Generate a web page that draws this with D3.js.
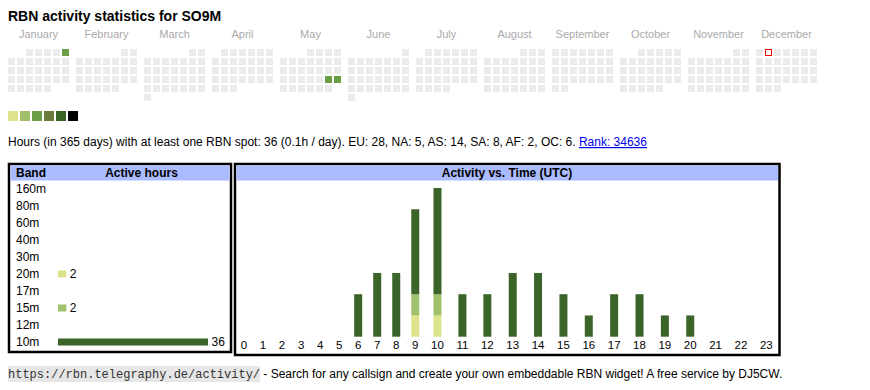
<!DOCTYPE html>
<html>
<head>
<meta charset="utf-8">
<script src="https://cdn.jsdelivr.net/npm/d3@7"></script>
<style>
body { margin: 0; background: #fff; }
text { font-family: "Liberation Sans", Arial, sans-serif; }
</style>
</head>
<body>
<svg id="chart" width="870" height="390"></svg>
<script>
/* data read from the RBN widget */
var year = 2025;
var months = ["January", "February", "March", "April", "May", "June", "July",
	"August", "September", "October", "November", "December"];
var activeDays = ["2025-01-05", "2025-05-24", "2025-05-25"];
var activeLevels = [3, 3, 3];
var today = "2025-12-02";
var levelColors = ["#dde38b", "#a0c06b", "#6a9e45", "#6a7b3a", "#3b6428", "#000000"];

var bands = ["160m", "80m", "60m", "40m", "30m", "20m", "17m", "15m", "12m", "10m"];
var bandHours = [0, 0, 0, 0, 0, 2, 0, 2, 0, 36];
var bandColors = {"20m": "#dde38b", "15m": "#a0c06b", "10m": "#3b6428"};

var hours = d3.range(24);
var hours20m = [0,0,0,0,0,0,0,0,0,1,1,0,0,0,0,0,0,0,0,0,0,0,0,0];
var hours15m = [0,0,0,0,0,0,0,0,0,1,1,0,0,0,0,0,0,0,0,0,0,0,0,0];
var hours10m = [0,0,0,0,0,0,2,3,3,4,5,2,2,3,3,2,1,2,2,1,1,0,0,0];

var summary = "Hours (in 365 days) with at least one RBN spot: 36 (0.1h / day). EU: 28, NA: 5, AS: 14, SA: 8, AF: 2, OC: 6.";
var rankText = "Rank: 34636";
var footerUrl = "https://rbn.telegraphy.de/activity/";
var footerText = "- Search for any callsign and create your own embeddable RBN widget! A free service by DJ5CW.";

var svg = d3.select("#chart");

/* title */
svg.append("text")
	.attr("x", 8).attr("y", 21)
	.style("font-weight", "bold").style("font-size", "14px")
	.text("RBN activity statistics for SO9M");

/* calendar */
var monthX = d3.scaleBand().domain(months).range([8, 8 + 12 * 68]);
var colX = d3.scaleLinear().domain([0, 7]).range([0, 63]);
var rowY = d3.scaleLinear().domain([0, 6]).range([49, 103]);
var fmt = d3.timeFormat("%Y-%m-%d");

var cal = svg.append("g");
months.forEach(function(m) {
	cal.append("text")
		.attr("x", monthX(m) + 30.5).attr("y", 38)
		.attr("text-anchor", "middle")
		.style("font-size", "11px").style("fill", "#aaaaaa")
		.text(m);
});

var days = d3.timeDays(new Date(year, 0, 1), new Date(year + 1, 0, 1));
function dayX(d) { return monthX(months[d.getMonth()]) + colX((d.getDay() + 6) % 7); }
function dayY(d) {
	var first = (new Date(d.getFullYear(), d.getMonth(), 1).getDay() + 6) % 7;
	return rowY(Math.floor((d.getDate() - 1 + first) / 7));
}
cal.selectAll("rect.day")
	.data(days.filter(function(d) { return fmt(d) !== today; }))
	.enter().append("rect")
	.attr("class", "day")
	.attr("width", 7).attr("height", 7)
	.attr("x", dayX)
	.attr("y", dayY)
	.attr("fill", function(d) {
		var i = activeDays.indexOf(fmt(d));
		return i >= 0 ? levelColors[activeLevels[i] - 1] : "#ebebeb";
	});
cal.selectAll("rect.today")
	.data(days.filter(function(d) { return fmt(d) === today; }))
	.enter().append("rect")
	.attr("class", "today")
	.attr("x", function(d) { return dayX(d) + 0.5; })
	.attr("y", function(d) { return dayY(d) + 0.5; })
	.attr("width", 6).attr("height", 6)
	.style("fill", "#ffffff").style("stroke", "#ff0000").style("stroke-width", "1px");

/* legend */
svg.append("g").selectAll("rect")
	.data(levelColors)
	.enter().append("rect")
	.attr("x", function(d, i) { return 8 + i * 12; })
	.attr("y", 111)
	.attr("width", 10).attr("height", 10)
	.attr("fill", function(d) { return d; });

/* summary line */
var sum = svg.append("text")
	.attr("x", 8).attr("y", 146)
	.style("font-size", "12px");
sum.text(summary);
var sw = sum.node().getComputedTextLength();
svg.append("text")
	.attr("x", 8 + sw + 3.3).attr("y", 146)
	.style("font-size", "12px").style("fill", "#0000ee")
	.style("text-decoration", "underline").text(rankText);

/* band table */
var bandBox = svg.append("g");
bandBox.append("rect")
	.attr("x", 9).attr("y", 164).attr("width", 222).attr("height", 188)
	.attr("fill", "#fff").attr("stroke", "#000").attr("stroke-width", 2.5);
bandBox.append("rect")
	.attr("x", 10.5).attr("y", 165.5).attr("width", 219).attr("height", 15)
	.attr("fill", "#aabbff");
bandBox.append("text")
	.attr("x", 16).attr("y", 177)
	.style("font-weight", "bold").style("font-size", "12px").text("Band");
bandBox.append("text")
	.attr("x", 141.5).attr("y", 177).attr("text-anchor", "middle")
	.style("font-weight", "bold").style("font-size", "12px").text("Active hours");

var bandY = d3.scaleBand().domain(bands).range([180.5, 350.5]);
var bandW = d3.scaleLinear().domain([0, 36]).range([0, 150]);

var rows = bandBox.selectAll("g.row")
	.data(bands)
	.enter().append("g").attr("class", "row")
	.attr("transform", function(d) { return "translate(0," + bandY(d) + ")"; });
rows.append("text")
	.attr("x", 16).attr("y", 12.7)
	.style("font-size", "12px")
	.text(function(d) { return d; });
rows.filter(function(d, i) { return bandHours[i] > 0; })
	.each(function(d) {
		var i = bands.indexOf(d);
		var g = d3.select(this);
		g.append("rect")
			.attr("x", 58).attr("y", 5)
			.attr("width", bandW(bandHours[i])).attr("height", 7)
			.attr("fill", bandColors[d]);
		g.append("text")
			.attr("x", 58 + bandW(bandHours[i]) + 3.5).attr("y", 12.7)
			.style("font-size", "12px")
			.text(bandHours[i]);
	});

/* activity vs time */
var timeBox = svg.append("g");
timeBox.append("rect")
	.attr("x", 235).attr("y", 164).attr("width", 544.5).attr("height", 191)
	.attr("fill", "#fff").attr("stroke", "#000").attr("stroke-width", 2.5);
timeBox.append("rect")
	.attr("x", 236.5).attr("y", 165.5).attr("width", 541.5).attr("height", 15)
	.attr("fill", "#aabbff");
timeBox.append("text")
	.attr("x", 507).attr("y", 177).attr("text-anchor", "middle")
	.style("font-weight", "bold").style("font-size", "12px").text("Activity vs. Time (UTC)");

/* columns are sized by their label, like the html table */
var labels = timeBox.selectAll("text.hour")
	.data(hours)
	.enter().append("text").attr("class", "hour")
	.attr("y", 349).attr("text-anchor", "middle")
	.style("font-size", "11.5px")
	.text(function(d) { return d; });
var widths = [];
labels.each(function() { widths.push(this.getComputedTextLength() + 12.8); });
var total = d3.sum(widths);
var starts = d3.cumsum([0].concat(widths));
var colScale = d3.scaleLinear().domain([0, total]).range([234.5, 779]);
function colCenter(h) { return colScale(starts[h] + widths[h] / 2); }
labels.attr("x", function(d) { return colCenter(d); });

var y = d3.scaleLinear().domain([0, 7]).range([336.7, 188]);
var stack = d3.stack().keys(["20m", "15m", "10m"])(
	hours.map(function(h) {
		return {h: h, "20m": hours20m[h], "15m": hours15m[h], "10m": hours10m[h]};
	}));
timeBox.selectAll("g.layer")
	.data(stack)
	.enter().append("g").attr("class", "layer")
	.attr("fill", function(d) { return bandColors[d.key]; })
	.selectAll("rect")
	.data(function(d) { return d.filter(function(s) { return s[1] > s[0]; }); })
	.enter().append("rect")
	.attr("x", function(d) { return colCenter(d.data.h) - 4; })
	.attr("width", 8)
	.attr("y", function(d) { return y(d[1]); })
	.attr("height", function(d) { return y(d[0]) - y(d[1]); });

/* footer */
var foot = svg.append("g");
var code = foot.append("text")
	.attr("x", 8).attr("y", 378)
	.style("font-family", "'Liberation Mono', 'Courier New', monospace")
	.style("font-size", "12px").style("fill", "#333")
	.text(footerUrl);
var cw = code.node().getComputedTextLength();
foot.insert("rect", "text")
	.attr("x", 8).attr("y", 366).attr("width", cw).attr("height", 16)
	.attr("fill", "#e6e6e6");
foot.append("text")
	.attr("x", 8 + cw + 3.3).attr("y", 378)
	.style("font-size", "12px")
	.text(footerText);
</script>
</body>
</html>
